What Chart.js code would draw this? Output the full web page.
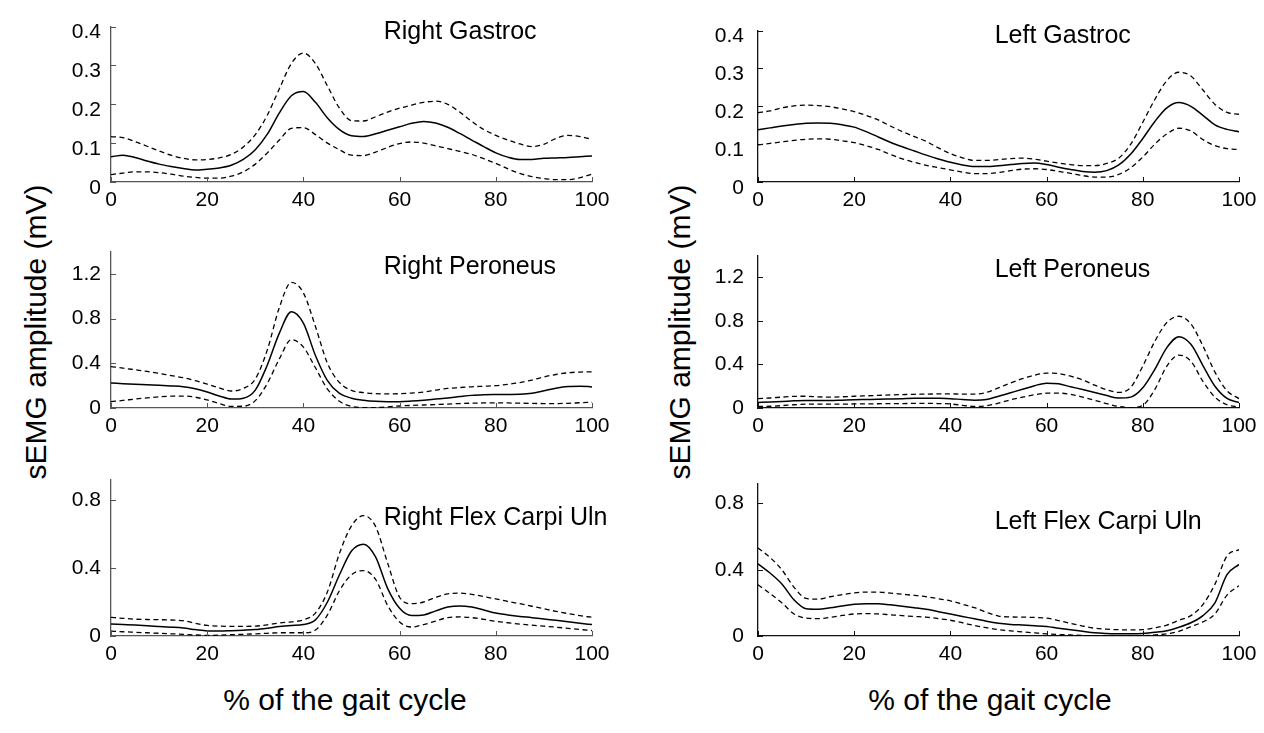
<!DOCTYPE html>
<html lang="en">
<head>
<meta charset="UTF-8" />
<title>sEMG amplitude over the gait cycle</title>
<script src="https://cdn.jsdelivr.net/npm/chart.js"></script>
<style>
  body { margin: 0; background: #fff; font-family: 'Liberation Sans', Arial, sans-serif; color: #000; }
  #page { position: relative; width: 1264px; height: 733px; overflow: hidden; }
  canvas { position: absolute; }
  .ytitle, .xtitle { position: absolute; font-size: 30px; white-space: nowrap; }
  .ytitle { transform: translate(-50%, -50%) rotate(-90deg); }
  .xtitle { transform: translate(-50%, -50%); }
</style>
</head>
<body>
<div id="page">
  <div class="ytitle" style="left:36px; top:332px;">sEMG amplitude (mV)</div>
  <div class="ytitle" style="left:680px; top:332px;">sEMG amplitude (mV)</div>
  <div class="xtitle" style="left:345px; top:700px;">% of the gait cycle</div>
  <div class="xtitle" style="left:990px; top:700px;">% of the gait cycle</div>
</div>

<script>
// % of gait cycle, sample positions
const gait = [0,2.5,5,7.5,10,12.5,15,17.5,20,22.5,
              25,27.5,30,32.5,35,37.5,40,42.5,45,47.5,
              50,52.5,55,57.5,60,62.5,65,67.5,70,72.5,
              75,77.5,80,82.5,85,87.5,90,92.5,95,97.5,
              100];
const xTicks = [0, 20, 40, 60, 80, 100];
const gastrocTicks = [0, 0.1, 0.2, 0.3, 0.4];
const peroneusTicks = [0, 0.4, 0.8, 1.2];
const carpiTicks = [0, 0.4, 0.8];

// mean and mean +/- SD (mV)
const rGastrocMean = [0.065,0.069,0.063,0.054,0.046,0.040,0.035,0.031,0.033,0.036,
  0.043,0.058,0.083,0.123,0.178,0.222,0.233,0.205,0.165,0.135,
  0.119,0.117,0.124,0.133,0.142,0.151,0.156,0.152,0.141,0.125,
  0.108,0.091,0.075,0.064,0.058,0.058,0.061,0.062,0.063,0.065,
  0.067];
const rGastrocUpper = [0.117,0.114,0.104,0.092,0.080,0.069,0.061,0.057,0.058,0.062,
  0.071,0.090,0.122,0.172,0.240,0.305,0.332,0.305,0.247,0.190,
  0.158,0.157,0.168,0.180,0.190,0.198,0.205,0.208,0.200,0.180,
  0.156,0.135,0.120,0.108,0.098,0.091,0.097,0.112,0.120,0.117,
  0.110];
const rGastrocLower = [0.019,0.023,0.026,0.026,0.024,0.020,0.015,0.012,0.010,0.010,
  0.015,0.026,0.046,0.075,0.108,0.138,0.140,0.122,0.100,0.083,
  0.069,0.068,0.077,0.089,0.099,0.103,0.100,0.093,0.086,0.079,
  0.071,0.060,0.048,0.034,0.022,0.014,0.009,0.006,0.006,0.011,
  0.020];

const lGastrocMean = [0.138,0.143,0.148,0.152,0.155,0.156,0.155,0.151,0.145,0.133,
  0.119,0.105,0.093,0.082,0.071,0.061,0.052,0.045,0.041,0.041,
  0.043,0.046,0.049,0.050,0.046,0.039,0.033,0.028,0.026,0.030,
  0.045,0.074,0.115,0.160,0.196,0.210,0.200,0.176,0.151,0.139,
  0.133];
const lGastrocUpper = [0.183,0.188,0.196,0.201,0.203,0.202,0.199,0.193,0.186,0.176,
  0.164,0.148,0.133,0.120,0.107,0.090,0.075,0.064,0.057,0.057,
  0.059,0.062,0.063,0.060,0.055,0.050,0.046,0.043,0.043,0.049,
  0.063,0.100,0.158,0.218,0.268,0.290,0.280,0.243,0.205,0.184,
  0.179];
const lGastrocLower = [0.098,0.102,0.106,0.110,0.113,0.114,0.113,0.109,0.104,0.096,
  0.086,0.073,0.061,0.052,0.044,0.038,0.032,0.026,0.022,0.022,
  0.025,0.030,0.034,0.035,0.033,0.028,0.023,0.017,0.013,0.013,
  0.020,0.038,0.066,0.100,0.127,0.142,0.135,0.112,0.096,0.088,
  0.086];

const rPeroneusMean = [0.223,0.218,0.213,0.208,0.203,0.198,0.191,0.172,0.143,0.108,
  0.080,0.088,0.160,0.385,0.670,0.862,0.760,0.470,0.245,0.130,
  0.088,0.070,0.060,0.057,0.057,0.062,0.070,0.080,0.090,0.102,
  0.113,0.118,0.120,0.121,0.123,0.132,0.155,0.177,0.192,0.195,
  0.189];
const rPeroneusUpper = [0.371,0.357,0.342,0.327,0.310,0.290,0.271,0.245,0.214,0.180,
  0.152,0.175,0.260,0.520,0.900,1.125,1.030,0.730,0.400,0.228,
  0.158,0.138,0.128,0.126,0.128,0.134,0.143,0.160,0.175,0.183,
  0.190,0.195,0.200,0.212,0.228,0.250,0.278,0.300,0.315,0.322,
  0.323];
const rPeroneusLower = [0.057,0.068,0.080,0.091,0.100,0.106,0.107,0.097,0.072,0.040,
  0.015,0.016,0.066,0.220,0.440,0.612,0.545,0.360,0.170,0.060,
  0.014,0.004,0.004,0.010,0.018,0.023,0.027,0.031,0.035,0.040,
  0.043,0.045,0.046,0.045,0.043,0.041,0.040,0.040,0.042,0.047,
  0.051];

const lPeroneusMean = [0.051,0.055,0.060,0.066,0.070,0.069,0.068,0.072,0.076,0.078,
  0.080,0.083,0.086,0.089,0.090,0.089,0.086,0.078,0.072,0.078,
  0.108,0.140,0.172,0.205,0.228,0.222,0.195,0.170,0.143,0.114,
  0.092,0.100,0.185,0.355,0.555,0.655,0.585,0.390,0.200,0.088,
  0.050];
const lPeroneusUpper = [0.086,0.092,0.100,0.107,0.108,0.102,0.100,0.103,0.108,0.112,
  0.116,0.120,0.123,0.126,0.128,0.129,0.129,0.128,0.128,0.143,
  0.185,0.230,0.270,0.302,0.320,0.316,0.292,0.258,0.210,0.168,
  0.143,0.190,0.385,0.612,0.785,0.843,0.772,0.570,0.330,0.158,
  0.086];
const lPeroneusLower = [0.014,0.016,0.022,0.030,0.036,0.036,0.035,0.036,0.037,0.038,
  0.039,0.040,0.041,0.042,0.043,0.041,0.037,0.025,0.014,0.020,
  0.045,0.075,0.100,0.122,0.136,0.137,0.125,0.100,0.071,0.040,
  0.014,0.004,0.025,0.170,0.385,0.486,0.430,0.245,0.100,0.030,
  0.009];

const rCarpiMean = [0.070,0.067,0.064,0.060,0.056,0.052,0.047,0.038,0.030,0.029,
  0.031,0.034,0.038,0.046,0.056,0.062,0.067,0.095,0.200,0.360,
  0.500,0.540,0.465,0.280,0.163,0.120,0.124,0.148,0.170,0.177,
  0.170,0.153,0.135,0.124,0.115,0.108,0.100,0.092,0.084,0.075,
  0.067];
const rCarpiUpper = [0.110,0.104,0.099,0.097,0.096,0.094,0.090,0.075,0.062,0.058,
  0.057,0.057,0.058,0.066,0.077,0.083,0.095,0.135,0.260,0.486,
  0.648,0.708,0.645,0.430,0.228,0.190,0.200,0.228,0.248,0.252,
  0.245,0.232,0.218,0.203,0.190,0.175,0.160,0.145,0.132,0.120,
  0.110];
const rCarpiLower = [0.029,0.025,0.022,0.019,0.016,0.013,0.010,0.006,0.004,0.005,
  0.008,0.010,0.013,0.016,0.019,0.019,0.019,0.035,0.124,0.267,
  0.360,0.385,0.333,0.180,0.082,0.053,0.067,0.088,0.108,0.112,
  0.108,0.098,0.086,0.078,0.070,0.064,0.058,0.052,0.045,0.038,
  0.032];

const lCarpiMean = [0.436,0.380,0.313,0.218,0.165,0.162,0.170,0.181,0.191,0.195,
  0.195,0.188,0.180,0.171,0.161,0.147,0.133,0.118,0.104,0.089,
  0.077,0.070,0.066,0.062,0.057,0.047,0.038,0.028,0.019,0.015,
  0.013,0.013,0.015,0.022,0.032,0.053,0.080,0.123,0.200,0.370,
  0.432];
const lCarpiUpper = [0.531,0.474,0.398,0.294,0.227,0.222,0.237,0.250,0.260,0.265,
  0.265,0.259,0.252,0.245,0.237,0.225,0.212,0.192,0.171,0.143,
  0.120,0.115,0.114,0.112,0.108,0.093,0.076,0.060,0.047,0.041,
  0.038,0.037,0.038,0.050,0.066,0.095,0.123,0.190,0.313,0.483,
  0.521];
const lCarpiLower = [0.309,0.256,0.199,0.133,0.108,0.105,0.112,0.124,0.133,0.135,
  0.133,0.128,0.123,0.118,0.114,0.105,0.095,0.080,0.063,0.050,
  0.038,0.031,0.025,0.019,0.013,0.009,0.006,0.003,0.001,0.000,
  0.000,0.001,0.002,0.006,0.013,0.028,0.057,0.085,0.133,0.247,
  0.303];

// panel layout (page pixels of the plot area); tBase = title baseline below plot top
const LEFT_X = 111, RIGHT_X = 758, PLOT_W = 481;
const panels = [
  { title: 'Right Gastroc', mean: rGastrocMean, upper: rGastrocUpper, lower: rGastrocLower,
    ticks: gastrocTicks, yMax: 0.4, x: LEFT_X, y: 20, h: 162, tFrac: 0.567, tBase: 12, lOff: 6, side: 'L' },
  { title: 'Left Gastroc', mean: lGastrocMean, upper: lGastrocUpper, lower: lGastrocLower,
    ticks: gastrocTicks, yMax: 0.4, x: RIGHT_X, y: 20, h: 162, tFrac: 0.492, tBase: 12, lOff: 6, side: 'R' },
  { title: 'Right Peroneus', mean: rPeroneusMean, upper: rPeroneusUpper, lower: rPeroneusLower,
    ticks: peroneusTicks, yMax: 1.4, x: LEFT_X, y: 245, h: 163, tFrac: 0.567, tBase: 22, lOff: 0, side: 'L' },
  { title: 'Left Peroneus', mean: lPeroneusMean, upper: lPeroneusUpper, lower: lPeroneusLower,
    ticks: peroneusTicks, yMax: 1.4, x: RIGHT_X, y: 245, h: 163, tFrac: 0.492, tBase: 21, lOff: 0, side: 'R' },
  { title: 'Right Flex Carpi Uln', mean: rCarpiMean, upper: rCarpiUpper, lower: rCarpiLower,
    ticks: carpiTicks, yMax: 0.92, x: LEFT_X, y: 473, h: 163, tFrac: 0.567, tBase: 45, lOff: 0, side: 'L' },
  { title: 'Left Flex Carpi Uln', mean: lCarpiMean, upper: lCarpiUpper, lower: lCarpiLower,
    ticks: carpiTicks, yMax: 0.92, x: RIGHT_X, y: 473, h: 163, tFrac: 0.492, tBase: 45, lOff: 0, side: 'R' }
];

const FONT = "'Liberation Sans', Arial, Helvetica, sans-serif";

// inward tick marks + panel title
const panelDecor = {
  id: 'panelDecor',
  afterDraw(chart, args, opts) {
    const { ctx, chartArea: a, scales: { x, y } } = chart;
    ctx.save();
    ctx.strokeStyle = opts.axisColor;
    ctx.lineWidth = 1;
    y.ticks.forEach(t => {
      const py = Math.round(y.getPixelForValue(t.value)) + 0.5;
      ctx.beginPath(); ctx.moveTo(a.left, py); ctx.lineTo(a.left + 5, py); ctx.stroke();
    });
    x.ticks.forEach(t => {
      const px = Math.round(x.getPixelForValue(t.value)) + 0.5;
      ctx.beginPath(); ctx.moveTo(px, a.bottom); ctx.lineTo(px, a.bottom - 5); ctx.stroke();
    });
    ctx.fillStyle = '#000';
    ctx.font = '25px ' + FONT;
    ctx.textBaseline = 'alphabetic';
    ctx.textAlign = 'left';
    ctx.fillText(opts.title, a.left + opts.frac * (a.right - a.left), a.top + opts.base);
    ctx.restore();
  }
};

const page = document.getElementById('page');
const padL = 70, padR = 26, padT = 16, padB = 36;

panels.forEach(p => {
  const cv = document.createElement('canvas');
  cv.width = padL + PLOT_W + padR;
  cv.height = padT + p.h + padB;
  cv.style.left = (p.x - padL) + 'px';
  cv.style.top = (p.y - padT) + 'px';
  page.appendChild(cv);

  const pts = arr => arr.map((v, i) => ({ x: gait[i], y: v }));
  const axisColor = p.side === 'L' ? '#555' : '#111';
  const tickFont = { family: FONT, size: 21 };

  new Chart(cv, {
    type: 'line',
    data: {
      datasets: [
        { data: pts(p.mean), borderColor: '#000', borderWidth: 1.5 },
        { data: pts(p.upper), borderColor: '#000', borderWidth: 1.3, borderDash: [5, 3.5] },
        { data: pts(p.lower), borderColor: '#000', borderWidth: 1.3, borderDash: [5, 3.5] }
      ]
    },
    options: {
      responsive: false,
      animation: false,
      layout: { padding: { top: padT, right: padR, left: 0, bottom: 0 } },
      elements: {
        point: { radius: 0 },
        line: { cubicInterpolationMode: 'monotone', fill: false }
      },
      plugins: {
        legend: { display: false },
        tooltip: { enabled: false },
        panelDecor: { title: p.title, frac: p.tFrac, base: p.tBase, axisColor }
      },
      scales: {
        x: {
          type: 'linear', min: 0, max: 100,
          afterBuildTicks: s => { s.ticks = xTicks.map(v => ({ value: v })); },
          afterFit: s => { s.height = padB; },
          grid: { display: false, drawTicks: false },
          border: { display: true, color: axisColor, width: 1.3 },
          ticks: { padding: 6, color: '#000', font: tickFont, maxRotation: 0, autoSkip: false,
                   callback: v => String(v) }
        },
        y: {
          min: 0, max: p.yMax,
          afterBuildTicks: s => { s.ticks = p.ticks.map(v => ({ value: v })); },
          afterFit: s => { s.width = padL; },
          grid: { display: false, drawTicks: false },
          border: { display: true, color: axisColor, width: 1.3 },
          ticks: { padding: p.side === 'L' ? 10 : 14, labelOffset: p.lOff, color: '#000',
                   font: tickFont, autoSkip: false, callback: v => String(v) }
        }
      }
    },
    plugins: [panelDecor]
  });
});
</script>
</body>
</html>
